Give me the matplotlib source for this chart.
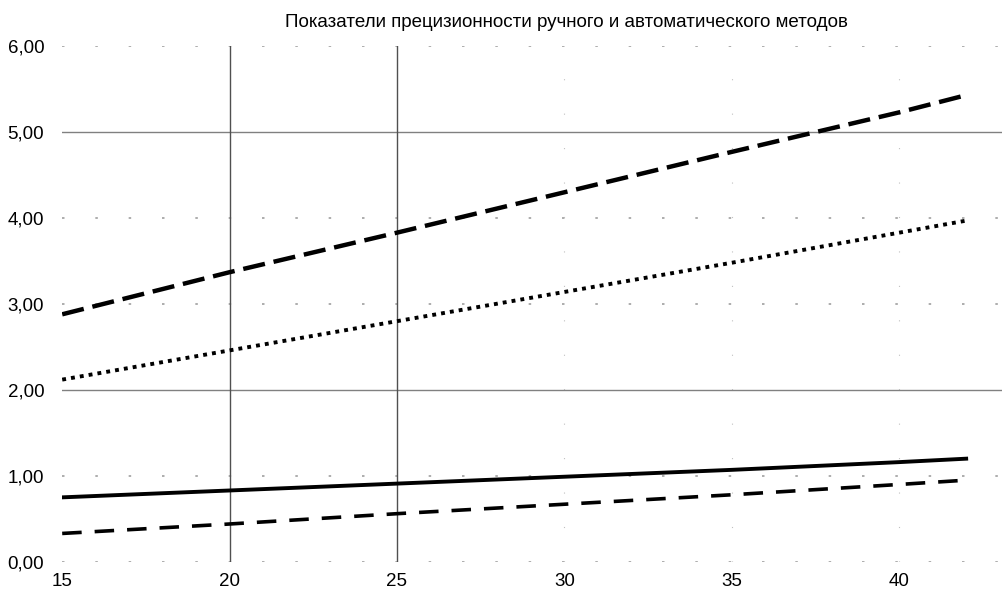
import matplotlib.pyplot as plt
from matplotlib.ticker import FuncFormatter

plt.rcParams['font.family'] = ['Liberation Sans', 'DejaVu Sans']

# values
x_vals = [15, 20, 25, 30, 35, 40, 42]
upper_dashed = [2.88, 3.37, 3.83, 4.30, 4.77, 5.23, 5.43]
upper_dotted = [2.12, 2.46, 2.80, 3.14, 3.48, 3.83, 3.97]
lower_solid = [0.75, 0.83, 0.91, 0.99, 1.07, 1.16, 1.20]
lower_dashed = [0.33, 0.44, 0.56, 0.67, 0.78, 0.90, 0.95]

x_ticks = [15, 20, 25, 30, 35, 40]
y_ticks = [0, 1, 2, 3, 4, 5, 6]
title = "Показатели прецизионности ручного и автоматического методов"

fig = plt.figure(figsize=(10.03, 5.92), dpi=100)
ax = fig.add_axes([0.062, 0.051, 0.938, 0.871])
ax.set_xlim(15, 43.1)
ax.set_ylim(0, 6)

# faint dotted grid
for y in [0, 1, 3, 4, 6]:
    ax.axhline(y, color='#a0a0a0', lw=1.2, ls=(0, (1.5, 18.5)), zorder=1)
for x in [30, 35, 40]:
    ax.axvline(x, color='#c0c0c0', lw=0.8, ls=(0, (1, 30)), zorder=1)

# solid grid lines
for y in [2, 5]:
    ax.axhline(y, color='#808080', lw=1.0, zorder=2)
for x in [20, 25]:
    ax.axvline(x, color='#505050', lw=1.0, zorder=2)

ax.plot(x_vals, upper_dashed, color='black', lw=3.2, ls=(0, (5, 2)), zorder=3)
ax.plot(x_vals, upper_dotted, color='black', lw=2.8, ls=(0, (1, 1.3)), zorder=3)
ax.plot(x_vals, lower_solid, color='black', lw=2.8, zorder=3)
ax.plot(x_vals, lower_dashed, color='black', lw=2.6, ls=(0, (5.4, 3.6)), zorder=3)

ax.set_xticks(x_ticks)
ax.set_yticks(y_ticks)
ax.yaxis.set_major_formatter(FuncFormatter(lambda v, p: ('%.2f' % v).replace('.', ',')))
ax.tick_params(length=0, labelsize=13.5)
ax.tick_params(axis='y', pad=13)
ax.tick_params(axis='x', pad=8)
for s in ax.spines.values():
    s.set_visible(False)

fig.text(0.565, 0.962, title, ha='center', va='center', fontsize=13.5)

fig.savefig('out.png', dpi=100)
